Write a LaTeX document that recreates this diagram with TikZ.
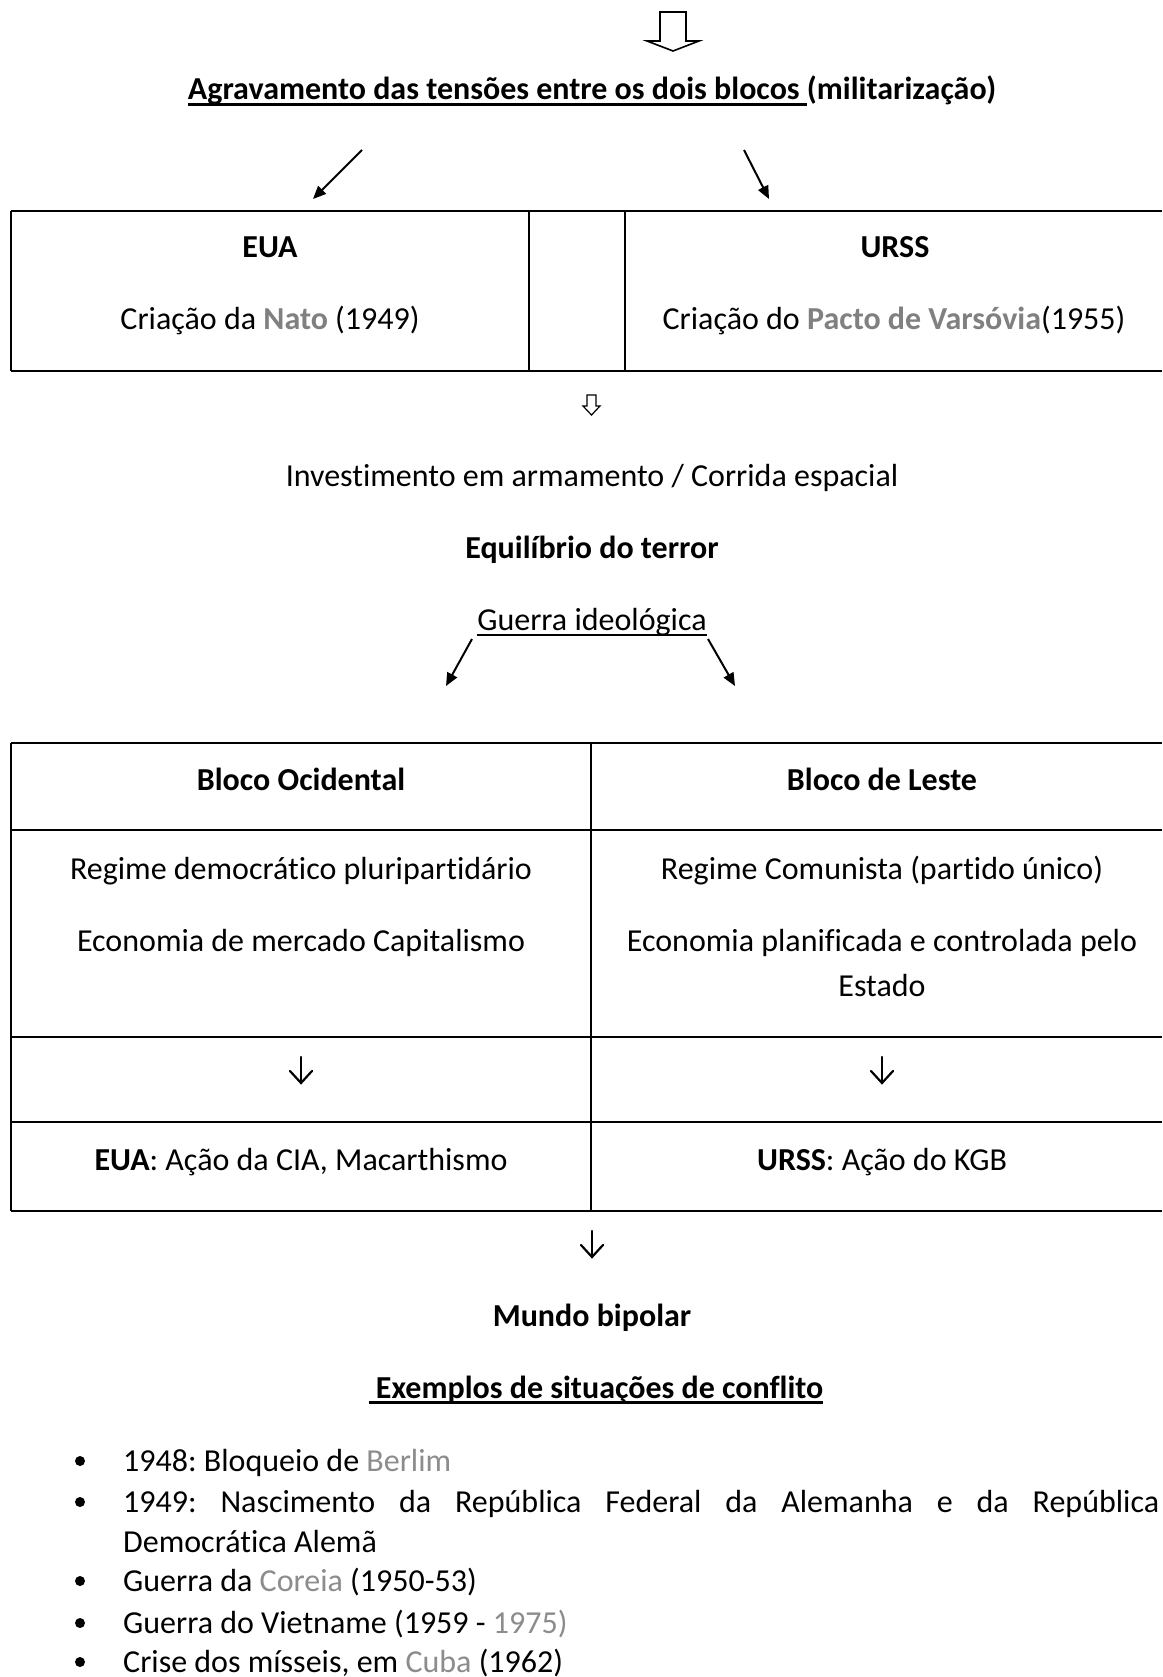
\documentclass[tikz,border=0pt]{standalone}
\usepackage{fontspec}
\setmainfont{Carlito}[Ligatures=NoCommon]
\usetikzlibrary{arrows.meta}
\definecolor{lnk}{RGB}{128,128,128}
\definecolor{lnklt}{RGB}{140,140,140}
\newcommand\myul[2][2.2pt]{\setbox0\hbox{#2}\rlap{\rule[-6pt]{\wd0}{#1}}\box0}
\frenchspacing
\begin{document}
\begin{tikzpicture}[x=1pt,y=-1pt,
  txt/.style={font=\fontsize{32}{40}\selectfont, inner sep=0pt, anchor=base},
  btxt/.style={txt, anchor=base west},
  rule/.style={line width=2pt},
  slant/.style={line width=2pt, -{Triangle[length=13pt,width=11pt]}},
  hollow/.style={draw=black, line width=1.6pt, fill=white, line join=miter},
  thin arrow/.style={line width=2.2pt, line cap=round},
  dot/.style={circle, fill=black, inner sep=0pt, minimum size=10pt}]
\useasboundingbox (0,0) rectangle (1162,1677);
\fill[white] (0,0) rectangle (1162,1677);

% top hollow arrow
\draw[hollow] (660,12) -- (686,12) -- (686,41) -- (699,41) -- (673,51) -- (647,41) -- (660,41) -- cycle;

% title
\node[txt, font=\fontsize{32}{40}\selectfont\bfseries] (title) at (592,100)
  {\myul[2.8pt]{Agravamento das tensões entre os dois blocos\ }(militarização)};

% slanted arrows to table 1
\coordinate (a1s) at (362,150); \coordinate (a1e) at (313,199);
\coordinate (a2s) at (744,150); \coordinate (a2e) at (769,199);
\draw[slant] (a1s) -- (a1e);
\draw[slant] (a2s) -- (a2e);

% table 1
\draw[rule] (11,211) -- (1162,211);
\draw[rule] (11,371) -- (1162,371);
\draw[rule] (11,211) -- (11,371);
\draw[rule] (529,211) -- (529,371);
\draw[rule] (625,211) -- (625,371);
\node[txt, font=\fontsize{32}{40}\selectfont\bfseries] (eua) at (270,258) {EUA};
\node[txt] (nato) at (270,329) {Criação da \textbf{\color{lnk}Nato} (1949)};
\node[txt, font=\fontsize{32}{40}\selectfont\bfseries] (urss) at (895,258) {URSS};
\node[txt] (pacto) at (894,329) {Criação do \textbf{\color{lnk}Pacto de Varsóvia}(1955)};

% small hollow arrow
\draw[hollow, line width=1.2pt] (587,395) -- (596,395) -- (596,406) -- (600,406) -- (591.5,415) -- (583,406) -- (587,406) -- cycle;

\node[txt] (invest) at (592,486) {Investimento em armamento / Corrida espacial};
\node[txt, font=\fontsize{32}{40}\selectfont\bfseries] (equil) at (592,558) {Equilíbrio do terror};
\node[txt] (guerra) at (592,630) {\myul{Guerra ideológica}};

\coordinate (g1s) at (472,639); \coordinate (g1e) at (446,686);
\coordinate (g2s) at (708,639); \coordinate (g2e) at (735,686);
\draw[slant] (g1s) -- (g1e);
\draw[slant] (g2s) -- (g2e);

% table 2
\foreach \yy in {743,830,1037,1122,1211} \draw[rule] (11,\yy) -- (1162,\yy);
\draw[rule] (11,743) -- (11,1211);
\draw[rule] (591,743) -- (591,1211);

\node[txt, font=\fontsize{32}{40}\selectfont\bfseries] (ocid) at (301,790) {Bloco Ocidental};
\node[txt, font=\fontsize{32}{40}\selectfont\bfseries] (leste) at (882,790) {Bloco de Leste};
\node[txt] (reg1) at (301,879) {Regime democrático pluripartidário};
\node[txt] (eco1) at (301,951) {Economia de mercado Capitalismo};
\node[txt] (reg2) at (882,879) {Regime Comunista (partido único)};
\node[txt] (eco2) at (882,951) {Economia planificada e controlada pelo};
\node[txt] (est2) at (882,996) {Estado};

% down arrows in table
\foreach \xx/\nm in {301/d1,882/d2}{
  \coordinate (\nm t) at (\xx,1057);
  \coordinate (\nm b) at (\xx,1083);
  \draw[thin arrow] (\nm t) -- (\nm b);
  \draw[thin arrow, line join=miter] (\xx-11,1071) -- (\nm b) -- (\xx+11,1071);
}

\node[txt] (cia) at (301,1170) {\textbf{EUA}: Ação da CIA, Macarthismo};
\node[txt] (kgb) at (882,1170) {\textbf{URSS}: Ação do KGB};

% down arrow below table
\coordinate (d3t) at (592,1231);
\coordinate (d3b) at (592,1257);
\draw[thin arrow] (d3t) -- (d3b);
\draw[thin arrow, line join=miter] (581,1245) -- (d3b) -- (603,1245);

\node[txt, font=\fontsize{32}{40}\selectfont\bfseries] (mundo) at (592,1326) {Mundo bipolar};
\node[txt, font=\fontsize{32}{40}\selectfont\bfseries] (exemp) at (596,1398) {\myul[2.8pt]{\ Exemplos de situações de conflito}};

% bullets
\node[dot] (b1) at (80,1461) {};
\node[btxt] (l1) at (123,1471) {1948: Bloqueio de {\color{lnklt}Berlim}};
\node[dot] (b2) at (80,1502) {};
\node[btxt] (l2) at (123,1512) {\makebox[1036pt][s]{1949: Nascimento da República Federal da Alemanha e da República}};
\node[btxt] (l2b) at (123,1552) {Democrática Alemã};
\node[dot] (b3) at (80,1581) {};
\node[btxt] (l3) at (123,1591) {Guerra da {\color{lnklt}Coreia} (1950-53)};
\node[dot] (b4) at (80,1623) {};
\node[btxt] (l4) at (123,1633) {Guerra do Vietname (1959 - {\color{lnklt}1975)}};
\node[dot] (b5) at (80,1662) {};
\node[btxt] (l5) at (123,1672) {Crise dos mísseis, em {\color{lnklt}Cuba} (1962)};
\end{tikzpicture}
\end{document}
